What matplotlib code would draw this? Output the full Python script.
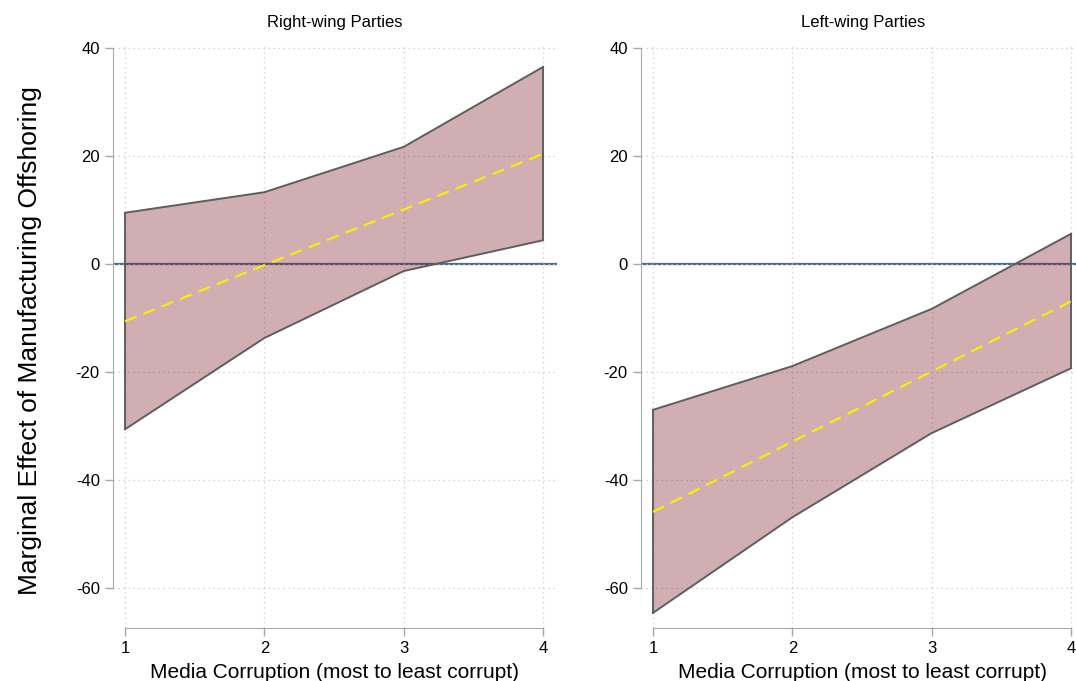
import matplotlib.pyplot as plt
import numpy as np

plt.rcParams['font.family'] = ['Liberation Sans', 'DejaVu Sans']
plt.rcParams['axes.unicode_minus'] = False

media = [1, 2, 3, 4]

# right-wing parties
right_mean = [-10.6, -0.2, 10.1, 20.4]
right_upper = [9.5, 13.3, 21.7, 36.5]
right_lower = [-30.6, -13.7, -1.3, 4.4]

# left-wing parties
left_mean = [-45.9, -32.9, -19.9, -6.9]
left_upper = [-27.0, -18.9, -8.3, 5.6]
left_lower = [-64.6, -46.9, -31.3, -19.3]

titles = ['Right-wing Parties', 'Left-wing Parties']
yticks = [40, 20, 0, -20, -40, -60]

fig = plt.figure(figsize=(10.76, 6.81), dpi=100)
ax1 = fig.add_axes([113/1076, 1-628/681, 444/1076, (628-44.8)/681])
ax2 = fig.add_axes([641/1076, 1-628/681, 444/1076, (628-44.8)/681])

data = [(right_mean, right_upper, right_lower), (left_mean, left_upper, left_lower)]

for ax, (m, up, lo), title in zip([ax1, ax2], data, titles):
    ax.set_xlim(0.914, 4.1)
    ax.set_ylim(-67.4, 40.6)
    ax.axhline(0, color='#46698c', lw=1.6, zorder=1)
    ax.fill_between(media, lo, up, facecolor='#7d1822', alpha=0.35, zorder=2, lw=0)
    ax.plot(media, up, color='#5e5e5e', lw=1.4, zorder=3)
    ax.plot(media, lo, color='#5e5e5e', lw=1.4, zorder=3)
    ax.plot([1, 1], [lo[0], up[0]], color='#5e5e5e', lw=1.4, zorder=3)
    ax.plot([4, 4], [lo[-1], up[-1]], color='#5e5e5e', lw=1.4, zorder=3)
    ax.plot(media, m, color='#ffee00', lw=1.5, dashes=(6, 3.5), zorder=4)

    ax.set_xticks(media)
    ax.set_yticks(yticks)
    ax.grid(True, color='#c8c8c8', linestyle=(0, (1, 3)), lw=0.9)
    for s in ['top', 'right']:
        ax.spines[s].set_visible(False)
    ax.spines['left'].set_bounds(-60, 40)
    ax.spines['bottom'].set_bounds(1, 4)
    ax.spines['left'].set_color('#a8a8a8')
    ax.spines['bottom'].set_color('#a8a8a8')
    ax.tick_params(axis='both', colors='#a8a8a8', labelcolor='black', labelsize=12, length=6, width=1)
    ax.set_title(title, fontsize=12, pad=13)
    ax.set_xlabel('Media Corruption (most to least corrupt)', fontsize=15, labelpad=5)

fig.text(30/1076, 0.5, 'Marginal Effect of Manufacturing Offshoring', rotation=90,
         ha='center', va='center', fontsize=19)

fig.savefig('out.png', dpi=100)
